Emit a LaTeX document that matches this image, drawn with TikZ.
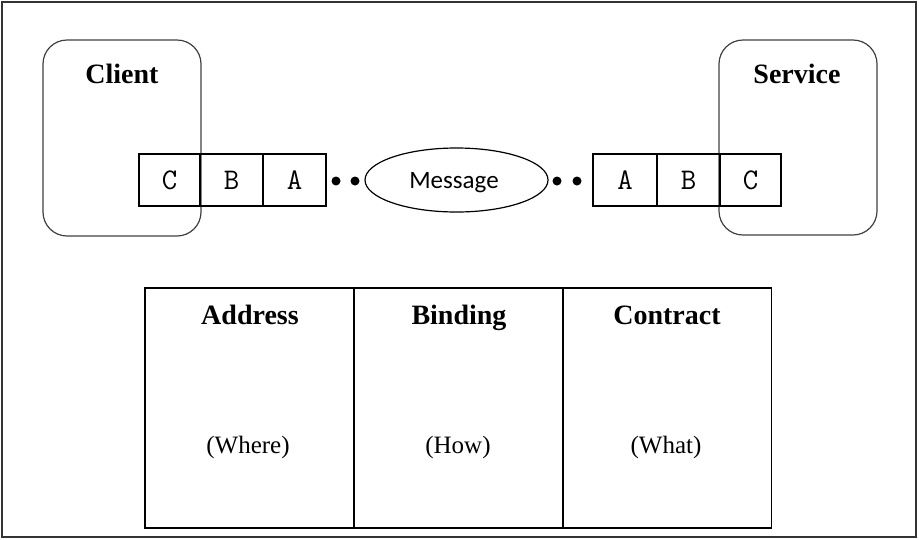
\documentclass[tikz,border=0pt]{standalone}
\usepackage{fontspec}
\setmainfont{Liberation Serif}
\newfontfamily\msgfont{Carlito}
\usetikzlibrary{shapes.geometric}
\begin{document}
\begin{tikzpicture}[x=1pt,y=-1pt,line width=1.2pt,
  party/.style={draw=black!75,rounded corners=24pt},
  cell/.style={draw,minimum height=52pt,inner sep=0pt},
  letter/.style={anchor=base,inner sep=0pt,font=\ttfamily\fontsize{30}{30}\selectfont},
  dot/.style={circle,fill,inner sep=0pt,minimum size=9pt},
  title/.style={anchor=base,inner sep=0pt,font=\bfseries\fontsize{28}{28}\selectfont},
  col/.style={draw,minimum width=209pt,minimum height=240pt,inner sep=0pt},
  sub/.style={anchor=base,inner sep=0pt,font=\fontsize{25}{25}\selectfont}]
  % page frame
  \draw[line width=1.3pt,black!80] (2,2) rectangle (916,537);
  \useasboundingbox (0,0) rectangle (919,539);
  % client and service
  \draw[party] (43,40) rectangle (201,236);
  \node[title] (client) at (122,83) {Client};
  \draw[party] (719,40) rectangle (877,235);
  \node[title] (service) at (797,83) {Service};
  % client-side stack
  \node[cell,minimum width=61pt] (cc) at (169.5,180) {};
  \node[cell,minimum width=63pt] (cb) at (231.5,180) {};
  \node[cell,minimum width=63pt] (ca) at (294.5,180) {};
  \node[letter] at (169.5,189) {C};
  \node[letter] at (231.5,189) {B};
  \node[letter] at (294.5,189) {A};
  % service-side stack
  \node[cell,minimum width=64pt] (sa) at (625,180) {};
  \node[cell,minimum width=63pt] (sb) at (688.5,180) {};
  \node[cell,minimum width=61pt] (sc) at (750.5,180) {};
  \node[letter] at (625,189) {A};
  \node[letter] at (688.5,189) {B};
  \node[letter] at (750.5,189) {C};
  % message
  \node[draw,ellipse,minimum width=183pt,minimum height=64pt,inner sep=0pt] (msg) at (456.5,180) {};
  \node[anchor=base,inner sep=0pt,font=\msgfont\fontsize{25}{25}\selectfont] at (454,188) {Message};
  \node[dot] (d1) at (336,181) {};
  \node[dot] (d2) at (355,181) {};
  \node[dot] (d3) at (557,181) {};
  \node[dot] (d4) at (577,181) {};
  % address / binding / contract
  \node[col] (addr) at (249.5,408) {};
  \node[col] (bind) at (458.5,408) {};
  \node[col] (cont) at (667,408) {};
  \node[title] at (250,324) {Address};
  \node[title] at (459,324) {Binding};
  \node[title] at (667,324) {Contract};
  \node[sub] at (248,453) {(Where)};
  \node[sub] at (458,453) {(How)};
  \node[sub] at (666,453) {(What)};
\end{tikzpicture}
\end{document}
